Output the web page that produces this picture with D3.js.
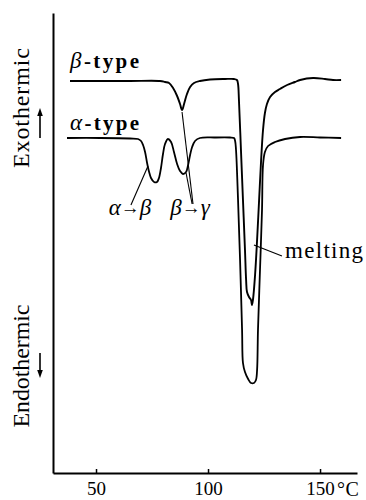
<!DOCTYPE html>
<html>
<head>
<meta charset="utf-8">
<script src="https://cdn.jsdelivr.net/npm/d3@7"></script>
<style>
  html, body { margin: 0; padding: 0; background: #fff; }
  svg { display: block; }
  svg text { font-family: "Liberation Serif", "DejaVu Serif", serif !important; fill: #000; }
</style>
</head>
<body>
<svg id="chart" width="366" height="500"></svg>
<script>
// ---- Data (temperature in °C, heat-flow signal in arbitrary units) ----
const betaTemp = [38.4, 51.8, 65.2, 78.6, 80.8, 82.6, 84.4, 86.2, 87.5, 88.4, 89.3, 90.6, 92.0, 93.75, 96.4, 100.9, 107.6, 111.6, 112.9, 113.4, 113.8, 114.7, 115.6, 116.5, 117.0, 117.4, 118.3, 119.2, 119.6, 120.1, 121.0, 121.9, 122.8, 123.7, 124.55, 125.4, 126.3, 127.7, 129.9, 132.1, 135.3, 138.8, 141.1, 146.9, 152.2, 155.8, 159.4];
const betaSignal = [39.2, 39.2, 39.2, 39.2, 39.1, 39.0, 38.5, 37.7, 36.9, 36.3, 36.9, 37.9, 38.6, 39.0, 39.2, 39.35, 39.4, 39.4, 39.3, 38.9, 37.3, 32.3, 27.3, 22.3, 19.3, 18.1, 17.6, 17.3, 16.8, 17.4, 19.8, 23.3, 27.3, 31.3, 34.3, 36.0, 36.9, 37.6, 38.1, 38.4, 38.8, 39.1, 39.3, 39.5, 39.4, 39.3, 39.3];

const alphaTemp = [37.05, 51.8, 65.2, 68.75, 70.1, 71.0, 71.9, 72.8, 73.7, 74.55, 75.9, 77.2, 78.1, 79.0, 79.9, 80.8, 82.1, 83.5, 84.8, 86.2, 87.5, 88.8, 90.2, 91.1, 92.0, 92.9, 94.2, 96.4, 103.1, 109.8, 111.6, 112.1, 112.5, 113.4, 114.3, 115.2, 115.6, 116.5, 117.9, 119.2, 120.5, 121.4, 121.9, 122.3, 123.2, 124.1, 124.55, 125.4, 126.8, 129.9, 134.4, 141.1, 150.0, 159.4];
const alphaSignal = [33.5, 33.5, 33.45, 33.4, 33.2, 32.8, 32.1, 31.0, 30.1, 29.5, 29.1, 29.1, 29.5, 30.5, 31.9, 32.9, 33.4, 33.1, 32.1, 30.9, 30.2, 29.9, 30.1, 30.8, 31.8, 32.6, 33.2, 33.5, 33.55, 33.55, 33.5, 33.2, 32.3, 27.3, 21.3, 14.3, 11.0, 10.1, 9.4, 9.0, 9.0, 9.3, 10.3, 14.3, 20.3, 26.3, 30.8, 32.1, 32.7, 33.1, 33.4, 33.6, 33.55, 33.5];

const xTicks = [50, 100, 150];
const xUnit = "°C";
const yLabelTop = "Exothermic";
const yLabelBottom = "Endothermic";

// curve name labels: [greek, suffix, temp, signal]
const seriesLabels = [["β", "-type", 38.4, 40.5], ["α", "-type", 38.4, 34.3]];
// transition labels: [from, to, temp, signal]
const transLabels = [["α", "β", 65.2, 25.8], ["β", "γ", 92.0, 25.8]];
// leader lines: [t1, s1, t2, s2]
const leaders = [
  [73.2, 30.7, 65.6, 26.8],
  [88.4, 36.1, 93.3, 26.9],
  [90.2, 30.0, 92.9, 26.9],
  [120.5, 22.8, 133.0, 21.7]
];
const meltLabel = ["melting", 134.4, 21.5];

const FONT = "Liberation Serif, DejaVu Serif, serif";

// ---- Scales ----
const svg = d3.select("#chart");
const x = d3.scaleLinear().domain([30.8, 166.5]).range([53, 357]);
const y = d3.scaleLinear().domain([0, 46]).range([473, 13]);

// ---- Axes ----
svg.append("g")
  .attr("transform", `translate(0,${y(0)})`)
  .attr("font-family", FONT)
  .call(d3.axisBottom(x).tickValues(xTicks).tickSize(-4).tickSizeOuter(0).tickPadding(9).tickFormat(d3.format("d")))
  .call(g => g.select(".domain").attr("stroke", "#000").attr("stroke-width", 2))
  .call(g => g.selectAll(".tick line").attr("stroke", "#000").attr("stroke-width", 1.5))
  .call(g => g.selectAll(".tick text").attr("font-family", FONT).attr("font-size", 19).attr("fill", "#000"));

svg.append("text")
  .attr("x", x(150) + 17).attr("y", y(0) + 22.5)
  .attr("font-family", FONT).attr("font-size", 20)
  .attr("letter-spacing", 0.5)
  .text(xUnit);

svg.append("g")
  .attr("transform", `translate(${x.range()[0]},0)`)
  .call(d3.axisLeft(y).tickValues([]).tickSizeOuter(0))
  .call(g => g.select(".domain").attr("stroke", "#000").attr("stroke-width", 2));

// ---- Y labels with arrows ----
svg.append("text")
  .attr("transform", `translate(29,108) rotate(-90)`)
  .attr("font-family", FONT)
  .attr("text-anchor", "middle").attr("font-size", 24)
  .attr("textLength", 120).attr("lengthAdjust", "spacing")
  .text(yLabelTop);
svg.append("text")
  .attr("transform", `translate(29,366) rotate(-90)`)
  .attr("font-family", FONT)
  .attr("text-anchor", "middle").attr("font-size", 24)
  .attr("textLength", 123).attr("lengthAdjust", "spacing")
  .text(yLabelBottom);

function arrow(x0, yFrom, yTo) {
  const dir = yTo < yFrom ? -1 : 1;
  svg.append("line").attr("x1", x0).attr("x2", x0).attr("y1", yFrom).attr("y2", yTo - dir * 6)
    .attr("stroke", "#000").attr("stroke-width", 1.6);
  svg.append("path")
    .attr("d", `M${x0},${yTo} L${x0 - 2.8},${yTo - dir * 8} L${x0 + 2.8},${yTo - dir * 8} Z`)
    .attr("fill", "#000");
}
arrow(40, 138, 108);
arrow(40, 353, 378);

// ---- Curves ----
const line = d3.line()
  .x(d => x(d[0])).y(d => y(d[1]))
  .curve(d3.curveCatmullRom.alpha(0.5));

const beta = betaTemp.map((t, i) => [t, betaSignal[i]]);
const alpha = alphaTemp.map((t, i) => [t, alphaSignal[i]]);

svg.append("path").datum(beta).attr("d", line)
  .attr("fill", "none").attr("stroke", "#000").attr("stroke-width", 1.9).attr("stroke-linejoin", "round");
svg.append("path").datum(alpha).attr("d", line)
  .attr("fill", "none").attr("stroke", "#000").attr("stroke-width", 1.8).attr("stroke-linejoin", "round");

// ---- Leader lines ----
svg.selectAll("line.leader").data(leaders).join("line")
  .attr("class", "leader")
  .attr("x1", d => x(d[0])).attr("y1", d => y(d[1]))
  .attr("x2", d => x(d[2])).attr("y2", d => y(d[3]))
  .attr("stroke", "#000").attr("stroke-width", 1.1);

// ---- Labels ----
seriesLabels.forEach(([g, s, t, v]) => {
  const tx = svg.append("text").attr("x", x(t)).attr("y", y(v))
    .attr("font-family", FONT).attr("font-size", 23)
    .attr("textLength", 69).attr("lengthAdjust", "spacing");
  tx.append("tspan").attr("font-style", "italic").text(g);
  tx.append("tspan").attr("font-weight", "bold").attr("font-size", 21).text(s);
});

transLabels.forEach(([a, b, t, v]) => {
  const tx = svg.append("text").attr("x", x(t)).attr("y", y(v))
    .attr("font-family", FONT).attr("font-size", 23)
    .attr("text-anchor", "middle");
  tx.append("tspan").attr("font-style", "italic").text(a);
  tx.append("tspan").attr("font-size", 19).attr("dy", -1).text("→");
  tx.append("tspan").attr("font-style", "italic").attr("dy", 1).text(b);
});

svg.append("text")
  .attr("x", x(meltLabel[1])).attr("y", y(meltLabel[2]))
  .attr("font-family", FONT)
  .attr("font-size", 23).attr("textLength", 78).attr("lengthAdjust", "spacing")
  .text(meltLabel[0]);
</script>
</body>
</html>
